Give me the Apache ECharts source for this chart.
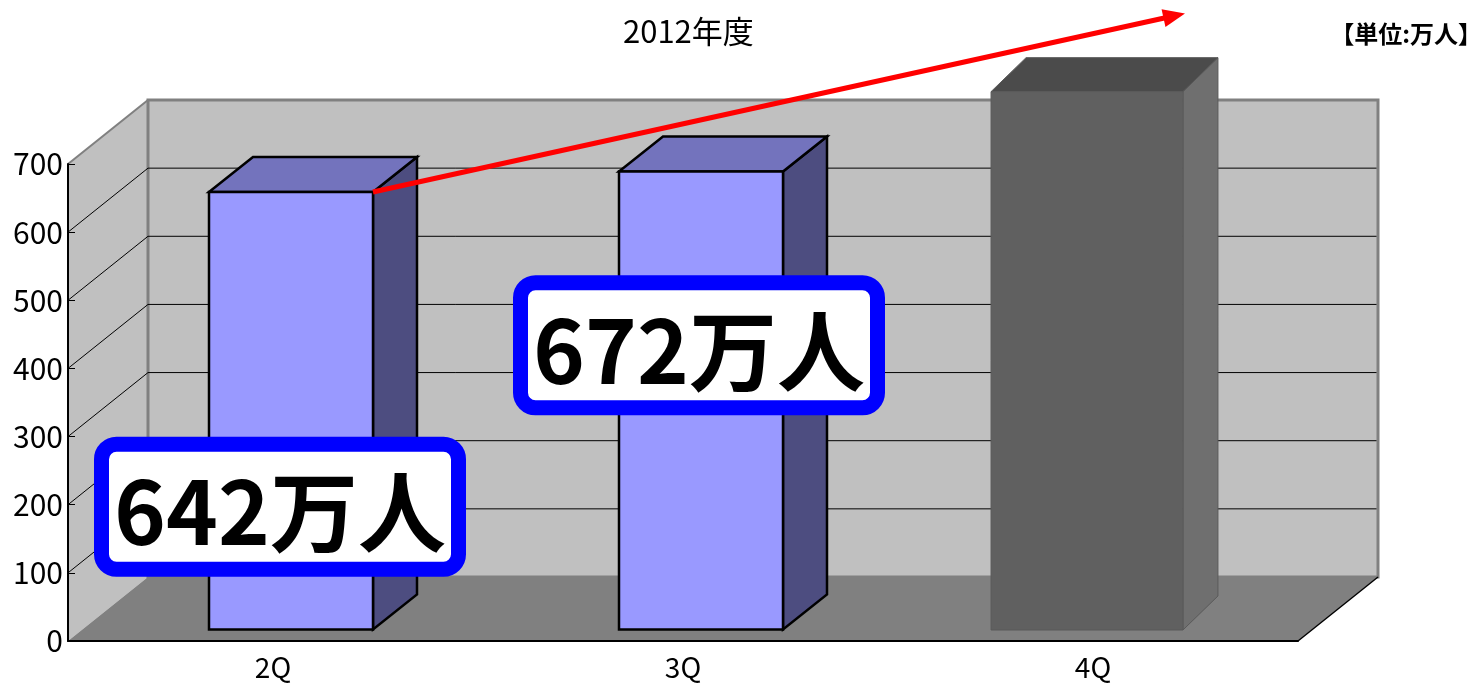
<!DOCTYPE html>
<html><head><meta charset="utf-8">
<script src="https://cdn.jsdelivr.net/npm/echarts@6/dist/echarts.min.js"></script>
<style>html,body{margin:0;padding:0;background:#fff}#c{width:1483px;height:685px}</style>
</head><body><div id="c"></div>
<script>
// ---- data ----
const categories = ['2Q', '3Q', '4Q'];
const values = [642, 672, 790];
const yTicks = [0, 100, 200, 300, 400, 500, 600, 700];
const labeledBars = [0, 1];
const labelSuffix = '万人';
const titleText = '2012年度';
const unitText = '【単位:万人】';

// ---- layout / style constants ----
const FONT = '"Noto Sans CJK JP", "Noto Sans", sans-serif';
const DEPTH = [80, -64];
const barLook = [
  { widthRatio: 0.4, shift: [18, -11.5], depth: [44, -35], front: '#9999ff', top: '#7373bd', side: '#4d4d80', stroke: '#000', lw: 2.5 },
  { widthRatio: 0.4, shift: [18, -11.5], depth: [44, -35], front: '#9999ff', top: '#7373bd', side: '#4d4d80', stroke: '#000', lw: 2.5 },
  { widthRatio: 0.468, shift: [-6, -11], depth: [35, -34], front: '#606060', top: '#4b4b4b', side: '#6f6f6f', stroke: '#595959', lw: 1 }
];
const labelLook = [
  { dx: 7, level: 197 },
  { dx: 16, level: 434 }
];
const arrowEnd = { cat: 2, level: 921, dx: 92 };

const chart = echarts.init(document.getElementById('c'), null, { renderer: 'canvas' });

function barGeom(api, i, v) {
  const top = api.coord([i, v]);
  const base = api.coord([i, 0]);
  const band = api.size([1, 0])[0];
  const st = barLook[i];
  const w = band * st.widthRatio;
  const cx = top[0] + st.shift[0];
  return { xl: cx - w / 2, xr: cx + w / 2, yt: top[1] + st.shift[1], yb: base[1] + st.shift[1], st };
}

const option = {
  animation: false,
  backgroundColor: '#fff',
  grid: { left: 68, right: 185, top: 164, bottom: 44, containLabel: false },
  xAxis: {
    type: 'category', data: categories, z: 10,
    axisLine: { lineStyle: { color: '#000', width: 2 } },
    axisTick: { inside: true, length: 7, lineStyle: { color: '#000' } },
    axisLabel: { color: '#000', fontSize: 28, fontFamily: FONT, margin: 12 },
    splitLine: { show: false }
  },
  yAxis: {
    type: 'value', min: 0, max: 700, interval: 100, z: 10,
    axisLine: { show: true, lineStyle: { color: '#000', width: 2 } },
    axisTick: { show: true, inside: true, length: 7, lineStyle: { color: '#000' } },
    axisLabel: { color: '#000', fontSize: 30, fontFamily: FONT, margin: 5 },
    splitLine: { show: false }
  },
  graphic: [
    { type: 'text', left: 623, top: 16, style: { text: titleText, fontSize: 31, fontFamily: FONT, fill: '#000' } },
    { type: 'text', right: 1, top: 22, style: { text: unitText, fontSize: 24, fontWeight: 'bold', fontFamily: FONT, fill: '#000' } }
  ],
  series: [
    { // walls & floor
      type: 'custom', z: 1, clip: false, silent: true,
      data: [[0, 0]],
      renderItem(params, api) {
        const cs = params.coordSys;
        const x0 = cs.x, x1 = cs.x + cs.width;
        const yTop = api.coord([0, yTicks[yTicks.length - 1]])[1];
        const y0 = api.coord([0, 0])[1];
        const [dx, dy] = DEPTH;
        return {
          type: 'group', children: [
            { type: 'polygon', shape: { points: [[x0, y0], [x0, yTop], [x0 + dx, yTop + dy], [x0 + dx, y0 + dy]] }, style: { fill: '#c0c0c0' } },
            { type: 'rect', shape: { x: x0 + dx, y: yTop + dy, width: x1 - x0, height: y0 - yTop }, style: { fill: '#c0c0c0', stroke: '#808080', lineWidth: 3 } },
            { type: 'polygon', shape: { points: [[x0, y0], [x0 + dx, y0 + dy], [x1 + dx, y0 + dy], [x1, y0]] }, style: { fill: '#808080' } },
            { type: 'line', shape: { x1: x0, y1: yTop, x2: x0 + dx, y2: yTop + dy }, style: { stroke: '#808080', lineWidth: 2 } },
            { type: 'line', shape: { x1: x1, y1: y0, x2: x1 + dx, y2: y0 + dy }, style: { stroke: '#000', lineWidth: 1.5 } }
          ]
        };
      }
    },
    { // grid lines
      type: 'custom', z: 2, clip: false, silent: true,
      data: yTicks.filter(v => v > 0 && v < yTicks[yTicks.length - 1]).map(v => [0, v]),
      renderItem(params, api) {
        const cs = params.coordSys;
        const x0 = cs.x, x1 = cs.x + cs.width;
        const y = api.coord([0, api.value(1)])[1];
        const [dx, dy] = DEPTH;
        return {
          type: 'group', children: [
            { type: 'line', shape: { x1: x0, y1: y, x2: x0 + dx, y2: y + dy }, style: { stroke: '#000', lineWidth: 1 } },
            { type: 'line', shape: { x1: x0 + dx, y1: y + dy, x2: x1 + dx - 1.5, y2: y + dy }, style: { stroke: '#000', lineWidth: 1 } }
          ]
        };
      }
    },
    { // bars
      type: 'custom', z: 3, clip: false,
      data: values.map((v, i) => [i, v]),
      renderItem(params, api) {
        const i = api.value(0), v = api.value(1);
        const g = barGeom(api, i, v);
        const { xl, xr, yt, yb, st } = g;
        const [ddx, ddy] = st.depth;
        const s = { stroke: st.stroke, lineWidth: st.lw, lineJoin: 'miter' };
        return {
          type: 'group', children: [
            { type: 'polygon', shape: { points: [[xr, yt], [xr + ddx, yt + ddy], [xr + ddx, yb + ddy], [xr, yb]] }, style: Object.assign({ fill: st.side }, s) },
            { type: 'polygon', shape: { points: [[xl, yt], [xl + ddx, yt + ddy], [xr + ddx, yt + ddy], [xr, yt]] }, style: Object.assign({ fill: st.top }, s) },
            { type: 'rect', shape: { x: xl, y: yt, width: xr - xl, height: yb - yt }, style: Object.assign({ fill: st.front }, s) }
          ]
        };
      }
    },
    { // value call-outs
      type: 'custom', z: 4, clip: false,
      data: labeledBars.map(i => [i, values[i]]),
      renderItem(params, api) {
        const i = api.value(0), v = api.value(1);
        const lk = labelLook[params.dataIndex];
        const c = api.coord([i, lk.level]);
        const cx = c[0] + lk.dx, cy = c[1];
        const w = 357, h = 125;
        return {
          type: 'group', children: [
            { type: 'rect', shape: { x: cx - w / 2, y: cy - h / 2, width: w, height: h, r: 15 }, style: { fill: '#fff', stroke: '#0000ff', lineWidth: 15 } },
            { type: 'text', style: { text: v + labelSuffix, x: cx, y: cy + 5, align: 'center', verticalAlign: 'middle', fontSize: 88, fontWeight: 'bold', fontFamily: FONT, fill: '#000' } }
          ]
        };
      }
    },
    { // trend arrow
      type: 'custom', z: 5, clip: false, silent: true,
      data: [[0, values[0]]],
      renderItem(params, api) {
        const g = barGeom(api, 0, values[0]);
        const sx = g.xr, sy = g.yt;
        const e = api.coord([arrowEnd.cat, arrowEnd.level]);
        const ex = e[0] + arrowEnd.dx, ey = e[1];
        const ang = Math.atan2(ey - sy, ex - sx);
        const L = 22, W = 9;
        const bx = ex - L * Math.cos(ang), by = ey - L * Math.sin(ang);
        const px = -Math.sin(ang), py = Math.cos(ang);
        return {
          type: 'group', children: [
            { type: 'line', shape: { x1: sx, y1: sy, x2: bx + 2 * Math.cos(ang), y2: by + 2 * Math.sin(ang) }, style: { stroke: '#ff0000', lineWidth: 5 } },
            { type: 'polygon', shape: { points: [[ex, ey], [bx + px * W, by + py * W], [bx - px * W, by - py * W]] }, style: { fill: '#ff0000' } }
          ]
        };
      }
    }
  ]
};
chart.setOption(option);
</script>
</body></html>
